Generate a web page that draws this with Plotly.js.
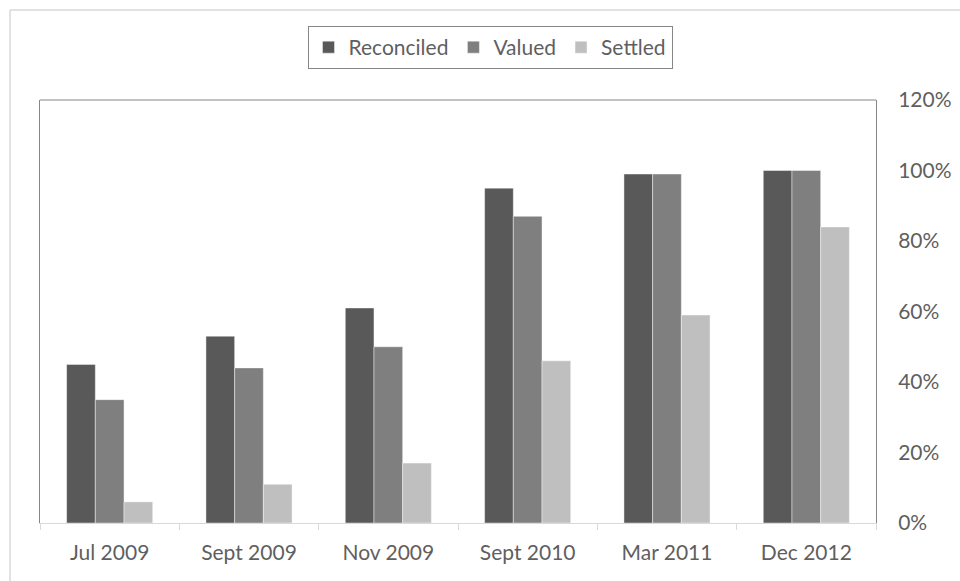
<!DOCTYPE html>
<html>
<head>
<meta charset="utf-8">
<script src="https://cdn.plot.ly/plotly-3.0.1.min.js"></script>
<style>
  html, body { margin: 0; padding: 0; background: #ffffff; }
  #chart { width: 960px; height: 581px; }
</style>
</head>
<body>
<div id="chart"></div>
<script>
// Periods shown along the bottom axis
const periods = ['Jul 2009', 'Sept 2009', 'Nov 2009', 'Sept 2010', 'Mar 2011', 'Dec 2012'];

// Share of items in each state, as fractions
const reconciled = [0.45, 0.53, 0.61, 0.95, 0.99, 1.00];
const valued     = [0.35, 0.44, 0.50, 0.87, 0.99, 1.00];
const settled    = [0.06, 0.11, 0.17, 0.46, 0.59, 0.84];

// Right-hand axis ticks
const yTicks = [0, 0.2, 0.4, 0.6, 0.8, 1.0, 1.2];

const seriesNames  = ['Reconciled', 'Valued', 'Settled'];
const seriesColors = ['#595959', '#7f7f7f', '#bfbfbf'];
const seriesValues = [reconciled, valued, settled];

const textColor = '#5f5f5f';
const fontFamily = 'Lato, "Liberation Sans", sans-serif';

const W = 960, H = 581;
const margin = { l: 40, r: 84, t: 100, b: 58, pad: 0 };
const plotW = W - margin.l - margin.r;
const plotH = H - margin.t - margin.b;

// paper coordinates of the outer chart frame (top/left edges at 10px)
const frameX = (10 - margin.l) / plotW;
const frameY = (H - margin.b - 10) / plotH;

const traces = seriesNames.map((name, i) => ({
  type: 'bar',
  name: name,
  x: periods,
  y: seriesValues[i],
  marker: {
    color: seriesColors[i],
    line: { color: 'rgba(255,255,255,0.55)', width: 0.8 }
  },
  hoverinfo: 'x+y+name'
}));

const layout = {
  width: W,
  height: H,
  margin: margin,
  paper_bgcolor: '#ffffff',
  plot_bgcolor: '#ffffff',
  font: { family: fontFamily, size: 21, color: textColor },
  barmode: 'group',
  bargap: 0.382,
  bargroupgap: 0,
  showlegend: true,
  legend: {
    orientation: 'h',
    x: (490 - margin.l) / plotW,
    xanchor: 'center',
    y: (H - margin.b - 26) / plotH,
    yanchor: 'top',
    bordercolor: '#868686',
    borderwidth: 1,
    bgcolor: '#ffffff',
    font: { family: fontFamily, size: 21, color: textColor },
    traceorder: 'normal'
  },
  xaxis: {
    type: 'category',
    showgrid: false,
    zeroline: false,
    showline: true,
    linecolor: '#d9d9d9',
    linewidth: 1,
    ticks: 'outside',
    tickson: 'boundaries',
    ticklen: 6,
    tickcolor: '#d9d9d9',
    ticklabelstandoff: 11,
    tickfont: { family: fontFamily, size: 21, color: textColor },
    fixedrange: true
  },
  yaxis: {
    side: 'right',
    range: [0, 1.2],
    tickvals: yTicks,
    tickformat: '.0%',
    showgrid: false,
    zeroline: false,
    showline: true,
    mirror: true,
    linecolor: '#868686',
    linewidth: 1,
    ticks: '',
    ticklabelstandoff: 17,
    tickfont: { family: fontFamily, size: 21, color: textColor },
    fixedrange: true
  },
  shapes: [
    // top edge of the plot area
    { type: 'line', xref: 'paper', yref: 'paper', x0: 0, x1: 1, y0: 1, y1: 1,
      line: { color: '#868686', width: 1 } },
    // outer chart frame (top and left edges)
    { type: 'line', xref: 'paper', yref: 'paper', x0: frameX, x1: 1.2, y0: frameY, y1: frameY,
      line: { color: '#d9d9d9', width: 1.5 } },
    { type: 'line', xref: 'paper', yref: 'paper', x0: frameX, x1: frameX, y0: frameY, y1: -0.3,
      line: { color: '#d9d9d9', width: 1.5 } }
  ]
};

Plotly.newPlot('chart', traces, layout, { displayModeBar: false, staticPlot: true });
</script>
</body>
</html>
